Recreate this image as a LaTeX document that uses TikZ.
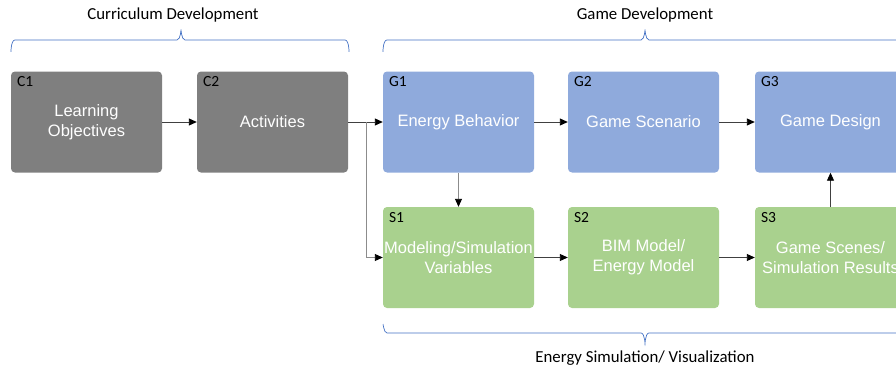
\documentclass[tikz,border=0pt]{standalone}
\usepackage{fontspec}
\setmainfont{Liberation Sans}
\newfontfamily\tagfont{Carlito}
\usetikzlibrary{arrows.meta}

\definecolor{curgray}{HTML}{7F7F7F}
\definecolor{gameblue}{HTML}{8FAADC}
\definecolor{simgreen}{HTML}{A9D18E}
\definecolor{bracecol}{HTML}{4472C4}

\begin{document}
\begin{tikzpicture}[x=1pt,y=-1pt,
    stage/.style={rounded corners=4pt, minimum width=151pt, minimum height=101pt,
        inner sep=0pt, align=center, text=white,
        font=\fontsize{16.5}{20}\selectfont},
    tag/.style={anchor=north west, inner sep=0pt, font=\tagfont\fontsize{15.5}{18}\selectfont},
    phase/.style={font=\tagfont\fontsize{16.8}{20}\selectfont},
    flow/.style={draw=black!75, line width=0.9pt, -{Triangle[length=8pt,width=7pt,color=black]}},
    brace/.style={draw=bracecol, line width=0.7pt}]
    \clip (0,0) rectangle (896,369);

    % curriculum
    \node[stage, fill=curgray] (c1) at (86.5,122) {Learning\\Objectives};
    \node[stage, fill=curgray] (c2) at (272.5,122) {Activities};

    % game
    \node[stage, fill=gameblue] (g1) at (458.5,122) {Energy Behavior};
    \node[stage, fill=gameblue] (g2) at (643.5,122) {Game Scenario};
    \node[stage, fill=gameblue] (g3) at (830.5,122) {Game Design};

    % simulation
    \node[stage, fill=simgreen] (s1) at (458.5,257.5) {Modeling/Simulation\\Variables};
    \node[stage, fill=simgreen] (s2) at (643.5,257.5) {BIM Model/\\Energy Model};
    \node[stage, fill=simgreen] (s3) at (830.5,257.5) {Game Scenes/\\Simulation Results};

    \foreach \n/\t in {c1/C1,c2/C2,g1/G1,g2/G2,g3/G3,s1/S1,s2/S2,s3/S3}
        \node[tag] (\n tag) at ([shift={(6,5)}]\n.north west) {\t};

    % connectors
    \coordinate (split) at (366,122);
    \draw[flow] (c1) -- (c2);
    \draw[flow] (c2) -- (g1);
    \draw[flow, draw=black!45] (split) |- (s1.west);
    \draw[flow] (g1) -- (g2);
    \draw[flow] (g2) -- (g3);
    \draw[flow, draw=black!45] (g1) -- (s1);
    \draw[flow] (s1) -- (s2);
    \draw[flow] (s2) -- (s3);
    \draw[flow] (s3) -- (g3);

    % braces
    \draw[brace] (11,51) to[out=-90,in=180] (15,40) -- (177,40)
        to[out=0,in=90] (181,31) to[out=90,in=180] (185,40) -- (345,40)
        to[out=0,in=-90] (349,51);
    \draw[brace] (383,51) to[out=-90,in=180] (387,40) -- (641,40)
        to[out=0,in=90] (645,31) to[out=90,in=180] (649,40) -- (920,40);
    \draw[brace] (383,325) to[out=90,in=180] (387,333) -- (641,333)
        to[out=0,in=-90] (645,343) to[out=-90,in=180] (649,333) -- (920,333);
    \node[phase] (curtitle) at (173,15) {Curriculum Development};
    \node[phase] (gametitle) at (645,15) {Game Development};
    \node[phase] (simtitle) at (645,358) {Energy Simulation/ Visualization};
\end{tikzpicture}
\end{document}
